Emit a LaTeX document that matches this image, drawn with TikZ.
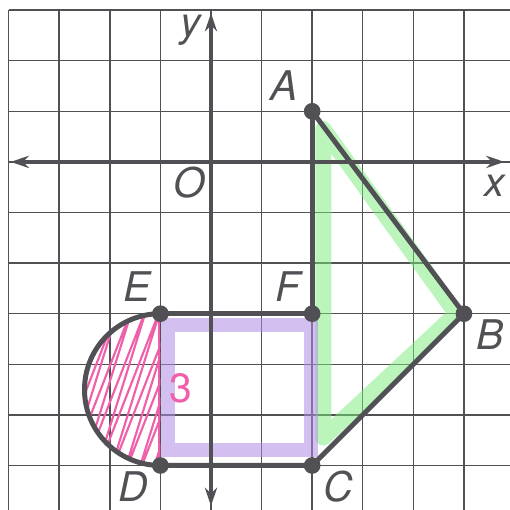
\documentclass[tikz,border=0pt]{standalone}
\usepackage{fontspec}
\setmainfont{TeX Gyre Heros}
\usetikzlibrary{arrows.meta}
\definecolor{ink}{RGB}{80,80,85}
\definecolor{hlgreen}{RGB}{120,235,120}
\definecolor{hlpurple}{RGB}{175,140,230}
\definecolor{hlpink}{RGB}{240,95,170}

\begin{document}
\begin{tikzpicture}[>={Stealth[length=0.36cm,width=0.24cm]},
  lbl/.style={font=\fontsize{23}{26}\selectfont\itshape,text=ink,inner sep=0pt},
  seg/.style={ink,line width=2.8pt,line cap=round},
  axis/.style={ink,line width=2.2pt},
  dot/.style={circle,fill=ink,inner sep=0pt,minimum size=0.33cm}]
  \useasboundingbox (-4.17,-6.88) rectangle (5.89,3.2);
  % grid paper
  \draw[ink,line width=0.8pt] (-4,-6.9) grid (5.9,3);
  % points
  \coordinate (A) at (2,1);   \coordinate (B) at (5,-3);
  \coordinate (C) at (2,-6);  \coordinate (D) at (-1,-6);
  \coordinate (E) at (-1,-3); \coordinate (F) at (2,-3);
  % highlighter
  \draw[hlgreen,opacity=0.5,line width=9pt,line join=round] (2.22,0.65) -- (4.85,-3) -- (2.22,-5.45) -- cycle;
  \draw[hlpurple,opacity=0.55,line width=8pt] (-0.85,-3.22) rectangle (1.97,-5.7);
  \begin{scope}
    \clip (E) arc[start angle=90,end angle=270,radius=1.5] -- cycle;
    \draw[hlpink,line width=1.2pt,line join=round] (-3.2,-6.4)
      \foreach \i in {1,...,9} { -- ++(1.4,3.6) -- ++(-1.12,-3.6) } -- ++(1.4,3.6);
    \draw[hlpink,line width=1.6pt] (-1.02,-3) -- (-1.02,-6);
  \end{scope}
  \node[font=\fontsize{23}{26}\selectfont,text=hlpink,inner sep=0pt] (three) at (-0.59,-4.47) {3};
  % axes
  \coordinate (xl) at (-3.96,0); \coordinate (xr) at (5.8,0);
  \coordinate (yt) at (0,2.94);  \coordinate (yb) at (0,-6.8);
  \draw[axis,<->] (xl) -- (xr);
  \draw[axis,<->] (yt) -- (yb);
  \node[lbl] (lx) at (5.6,-0.47) {x};
  \node[lbl] (ly) at (-0.41,2.6) {y};
  \node[lbl] (lO) at (-0.43,-0.4) {O};
  % figure
  \draw[seg] (A) -- (F);
  \draw[seg] (A) -- (B) -- (C) -- (D);
  \draw[seg] (E) -- (F);
  \draw[seg] (E) arc[start angle=90,end angle=270,radius=1.5];
  \foreach \p in {A,B,C,D,E,F} \node[dot] (d\p) at (\p) {};
  \node[lbl] (lA) at (1.44,1.5) {A};
  \node[lbl] (lB) at (5.51,-3.42) {B};
  \node[lbl] (lC) at (2.51,-6.42) {C};
  \node[lbl] (lD) at (-1.54,-6.42) {D};
  \node[lbl] (lE) at (-1.46,-2.47) {E};
  \node[lbl] (lF) at (1.52,-2.47) {F};
\end{tikzpicture}
\end{document}
